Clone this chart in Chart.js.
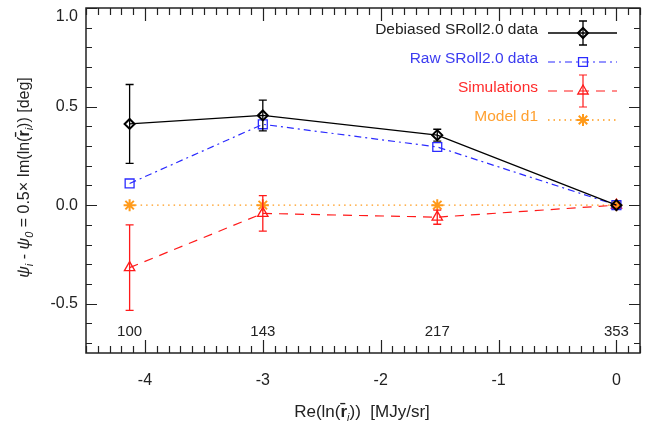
<!DOCTYPE html>
<html>
<head>
<meta charset="utf-8">
<script src="https://cdn.jsdelivr.net/npm/chart.js@4.4.0/dist/chart.umd.min.js"></script>
<style>
body{margin:0;background:#fff}
#box{width:662px;height:423px}
</style>
</head>
<body>
<div id="box"><canvas id="grafico" width="662" height="423"></canvas></div>
<script>
// ===== DADOS =====
const freqs = ["100", "143", "217", "353"];
const reLn = [-4.13, -3.0, -1.52, 0];
const debiased = [0.412, 0.455, 0.355, 0];
const debiasedErr = [0.20, 0.078, 0.03, 0];
const raw = [0.11, 0.41, 0.295, 0];
const sims = [-0.317, -0.042, -0.061, 0];
const simsErr = [0.217, 0.09, 0.036, 0];
const model = [0, 0, 0, 0];
const xTicks = [-4, -3, -2, -1, 0];
const xTickLabels = ["-4", "-3", "-2", "-1", "0"];
const yTicks = [1.0, 0.5, 0.0, -0.5];
const yTickLabels = ["1.0", "0.5", "0.0", "-0.5"];

const FONTE = '"Liberation Sans", Arial, sans-serif';
const TXT = "#222";

function pontos(ys){
  return reLn.map((x, i) => ({x, y: ys[i]}));
}

// ===== TEXTO COM ÍNDICES =====
// segs: [{t, size, dy, style}] desenhados em sequência, centralizados em x
function textoRico(ctx, segs, x, y){
  let total = 0;
  segs.forEach(s => {
    ctx.font = `${s.style || ""} ${s.size}px ${FONTE}`;
    s.w = ctx.measureText(s.t).width;
    total += s.w;
  });
  let cx = x - total / 2;
  segs.forEach(s => {
    ctx.font = `${s.style || ""} ${s.size}px ${FONTE}`;
    ctx.fillText(s.t, cx, y + (s.dy || 0));
    cx += s.w;
  });
}

// ===== BARRAS DE ERRO =====
const barrasErro = {
  id: "barrasErro",
  afterDatasetsDraw(chart){
    const ctx = chart.ctx, sx = chart.scales.x, sy = chart.scales.y;
    chart.data.datasets.forEach(ds => {
      if(!ds.err) return;
      ctx.save();
      ctx.strokeStyle = ds.borderColor;
      ctx.lineWidth = 1.3;
      ds.data.forEach((p, i) => {
        const e = ds.err[i];
        if(!e) return;
        const px = sx.getPixelForValue(p.x);
        const y1 = sy.getPixelForValue(p.y + e), y2 = sy.getPixelForValue(p.y - e);
        ctx.beginPath();
        ctx.moveTo(px, y1); ctx.lineTo(px, y2);
        ctx.moveTo(px - 4, y1); ctx.lineTo(px + 4, y1);
        ctx.moveTo(px - 4, y2); ctx.lineTo(px + 4, y2);
        ctx.stroke();
      });
      ctx.restore();
    });
  }
};

// ===== EIXOS, TICKS E RÓTULOS =====
const eixos = {
  id: "eixos",
  afterDraw(chart){
    const ctx = chart.ctx, ca = chart.chartArea;
    const sx = chart.scales.x, sy = chart.scales.y;
    ctx.save();
    ctx.strokeStyle = "#222";
    ctx.lineWidth = 1.5;
    ctx.strokeRect(ca.left, ca.top, ca.right - ca.left, ca.bottom - ca.top);

    ctx.lineWidth = 1.2;
    ctx.beginPath();
    // ticks de x a cada 0.1 (maiores a cada 1)
    for(let k = -45; k <= 2; k++){
      const px = Math.round(sx.getPixelForValue(k / 10)) + 0.5;
      const len = k % 10 === 0 ? 13 : 7;
      ctx.moveTo(px, ca.bottom); ctx.lineTo(px, ca.bottom - len);
      ctx.moveTo(px, ca.top); ctx.lineTo(px, ca.top + len);
    }
    // ticks de y a cada 0.1 (maiores a cada 0.5)
    for(let k = -7; k <= 10; k++){
      const py = Math.round(sy.getPixelForValue(k / 10)) + 0.5;
      const len = k % 5 === 0 ? 11 : 6;
      ctx.moveTo(ca.left, py); ctx.lineTo(ca.left + len, py);
      ctx.moveTo(ca.right, py); ctx.lineTo(ca.right - len, py);
    }
    ctx.stroke();

    ctx.fillStyle = TXT;
    ctx.font = `16px ${FONTE}`;
    ctx.textBaseline = "middle";
    ctx.textAlign = "center";
    xTicks.forEach((v, i) => ctx.fillText(xTickLabels[i], sx.getPixelForValue(v), 381));
    ctx.textAlign = "right";
    yTicks.forEach((v, i) => {
      const py = Math.max(sy.getPixelForValue(v), ca.top + 9);
      ctx.fillText(yTickLabels[i], ca.left - 8, py);
    });

    // frequências sobre cada ponto
    ctx.font = `15px ${FONTE}`;
    ctx.textAlign = "center";
    freqs.forEach((f, i) => ctx.fillText(f, sx.getPixelForValue(reLn[i]), 332));

    // títulos dos eixos
    ctx.textBaseline = "alphabetic";
    ctx.textAlign = "left";
    textoRico(ctx, [
      {t: "Re(ln(", size: 17},
      {t: "r\u0304", size: 17, style: "bold"},
      {t: "i", size: 11, dy: 4, style: "italic"},
      {t: "))  [MJy/sr]", size: 17}
    ], (ca.left + ca.right) / 2 - 1, 417);

    ctx.translate(29, (ca.top + ca.bottom) / 2 - 3);
    ctx.rotate(-Math.PI / 2);
    textoRico(ctx, [
      {t: "\u03C8", size: 16, style: "italic"},
      {t: "i", size: 11, dy: 4, style: "italic"},
      {t: " - ", size: 16},
      {t: "\u03C8", size: 16, style: "italic"},
      {t: "0", size: 11, dy: 4, style: "italic"},
      {t: " = 0.5\u00D7 Im(ln(", size: 16},
      {t: "r\u0304", size: 16, style: "bold"},
      {t: "i", size: 11, dy: 4, style: "italic"},
      {t: ")) [deg]", size: 16}
    ], 0, 0);
    ctx.restore();
  }
};

// ===== LEGENDA =====
const legenda = {
  id: "legenda",
  afterDraw(chart){
    const ctx = chart.ctx;
    const linhas = [33, 62, 91, 120];
    const cores = [TXT, "#3c3cf0", "#ff2a2a", "#ffa030"];
    const barras = [12, 0, 16, 0];
    chart.data.datasets.forEach((ds, i) => {
      const y = linhas[i];
      ctx.save();
      ctx.fillStyle = cores[i];
      ctx.font = `15.5px ${FONTE}`;
      ctx.textAlign = "right";
      ctx.textBaseline = "alphabetic";
      ctx.fillText(ds.label, 538, y + 0.5);

      ctx.strokeStyle = ds.borderColor;
      ctx.lineWidth = ds.borderWidth;
      ctx.setLineDash(ds.borderDash || []);
      ctx.beginPath();
      ctx.moveTo(548, y); ctx.lineTo(617, y);
      ctx.stroke();
      ctx.setLineDash([]);
      if(barras[i]){
        const b = barras[i];
        ctx.beginPath();
        ctx.moveTo(583, y - b); ctx.lineTo(583, y + b);
        ctx.moveTo(579, y - b); ctx.lineTo(587, y - b);
        ctx.moveTo(579, y + b); ctx.lineTo(587, y + b);
        ctx.stroke();
      }
      ctx.lineWidth = ds.pointBorderWidth;
      ctx.fillStyle = "rgba(0,0,0,0)";
      Chart.helpers.drawPoint(ctx, {
        pointStyle: ds.pointStyle, radius: ds.pointRadius,
        borderWidth: ds.pointBorderWidth, rotation: 0
      }, 583, y);
      ctx.restore();
    });
  }
};

new Chart(document.getElementById("grafico"), {
  type: "line",
  data: {
    datasets: [
      {label: "Debiased SRoll2.0 data", data: pontos(debiased), err: debiasedErr,
       borderColor: "#000", borderWidth: 1.3, pointStyle: "rectRot", pointRadius: 5,
       pointBorderWidth: 2, pointBackgroundColor: "rgba(0,0,0,0)"},
      {label: "Raw SRoll2.0 data", data: pontos(raw),
       borderColor: "#2b2bff", borderWidth: 1.2, borderDash: [7, 4, 2, 4], pointStyle: "rect",
       pointRadius: 6.3, pointBorderWidth: 1.3, pointBackgroundColor: "rgba(0,0,0,0)"},
      {label: "Simulations", data: pontos(sims), err: simsErr,
       borderColor: "#ff1a1a", borderWidth: 1.2, borderDash: [9, 7], pointStyle: "triangle",
       pointRadius: 6, pointBorderWidth: 1.3, pointBackgroundColor: "rgba(0,0,0,0)"},
      {label: "Model d1", data: pontos(model),
       borderColor: "#ff9a1a", borderWidth: 1.3, borderDash: [1.5, 4], pointStyle: "star",
       pointRadius: 6, pointBorderWidth: 2, pointBackgroundColor: "rgba(0,0,0,0)"}
    ]
  },
  options: {
    responsive: false,
    animation: false,
    layout: {padding: {left: 86, top: 4, right: 22, bottom: 70}},
    scales: {
      x: {type: "linear", min: -4.5, max: 0.2, display: false},
      y: {type: "linear", min: -0.75, max: 1.0, display: false}
    },
    plugins: {legend: {display: false}, tooltip: {enabled: false}}
  },
  plugins: [barrasErro, eixos, legenda]
});
</script>
</body>
</html>
